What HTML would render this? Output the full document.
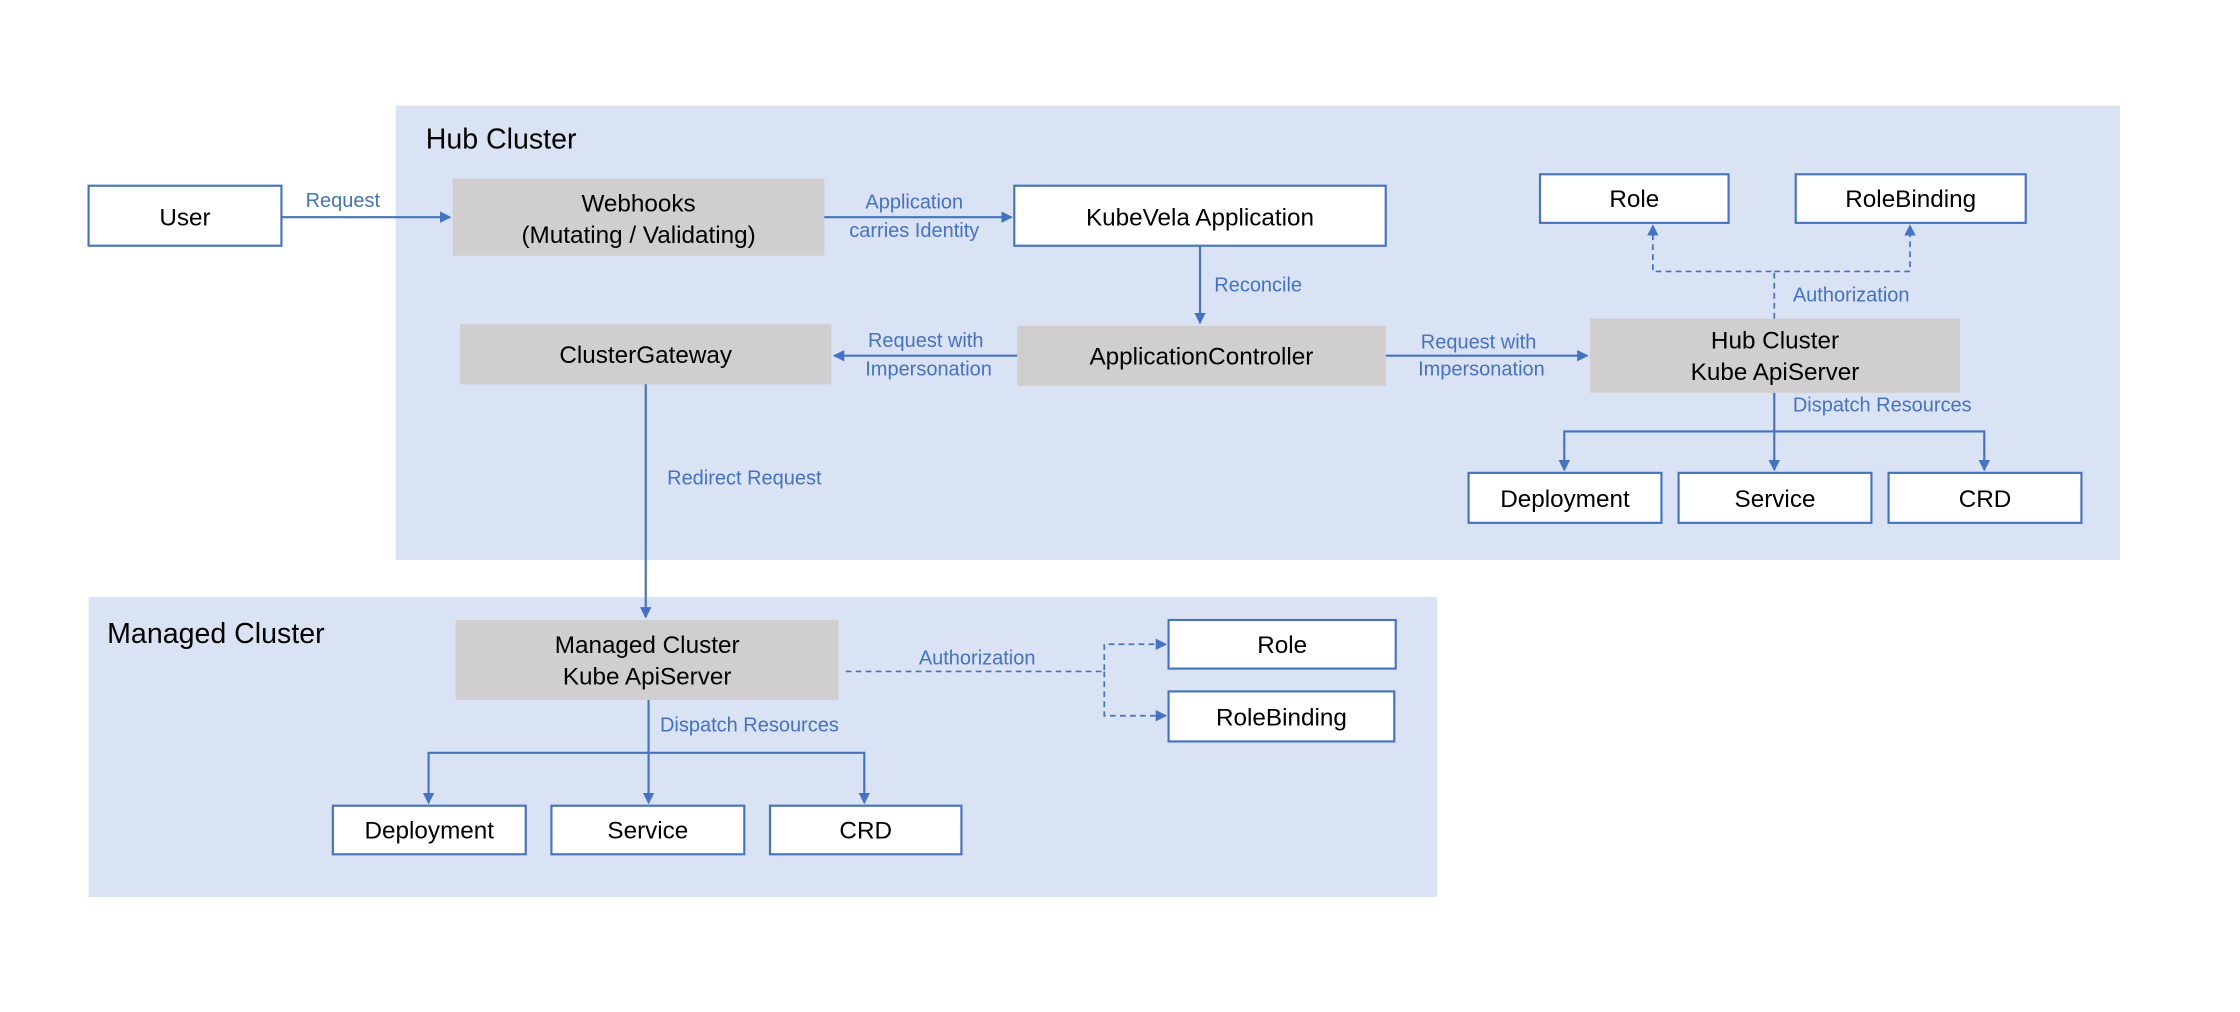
<!DOCTYPE html>
<html><head><meta charset="utf-8"><style>
html,body{margin:0;padding:0;background:#fff}
svg{display:block}
text{font-family:"Liberation Sans",sans-serif}
.b{fill:#000;font-size:17px;text-anchor:middle}
.l{fill:#4472c4;font-size:14px;text-anchor:middle}
.s{fill:#4472c4;font-size:14px;text-anchor:start}
.w{fill:#fff;stroke:#4472c4;stroke-width:1.5}
.g{fill:#d0cece}
.ln{stroke:#4472c4;stroke-width:1.5;fill:none}
.d{stroke:#4472c4;stroke-width:1.2;fill:none;stroke-dasharray:4,3}
</style></head><body>
<svg width="2240" height="1012" viewBox="0 0 1568 708.4" xmlns="http://www.w3.org/2000/svg">
<defs><marker id="a" markerWidth="8" markerHeight="8" refX="7" refY="4" orient="auto" markerUnits="userSpaceOnUse"><path d="M0,0L8,4L0,8z" fill="#4472c4"/></marker></defs>
<rect x="277" y="74" width="1207" height="318" fill="#dae3f3"/>
<rect x="62" y="418" width="944" height="210" fill="#dae3f3"/>
<text x="298" y="104" font-size="20" fill="#000">Hub Cluster</text>
<text x="75" y="450" font-size="20" fill="#000">Managed Cluster</text>

<rect class="w" x="62" y="130" width="135" height="42"/><text class="b" x="129.5" y="158">User</text>
<rect class="g" x="317" y="125" width="260" height="54"/><text class="b" x="447" y="148">Webhooks</text><text class="b" x="447" y="170">(Mutating / Validating)</text>
<rect class="w" x="710" y="130" width="260" height="42"/><text class="b" x="840" y="158">KubeVela Application</text>
<rect class="w" x="1078" y="122" width="132" height="34"/><text class="b" x="1144" y="145">Role</text>
<rect class="w" x="1257" y="122" width="161" height="34"/><text class="b" x="1337.5" y="145">RoleBinding</text>
<rect class="g" x="322" y="227" width="260" height="42"/><text class="b" x="452" y="254">ClusterGateway</text>
<rect class="g" x="712" y="228" width="258" height="42"/><text class="b" x="841" y="255">ApplicationController</text>
<rect class="g" x="1113" y="223" width="259" height="52"/><text class="b" x="1242.5" y="244">Hub Cluster</text><text class="b" x="1242.5" y="266">Kube ApiServer</text>
<rect class="w" x="1028" y="331" width="135" height="35"/><text class="b" x="1095.5" y="355">Deployment</text>
<rect class="w" x="1175" y="331" width="135" height="35"/><text class="b" x="1242.5" y="355">Service</text>
<rect class="w" x="1322" y="331" width="135" height="35"/><text class="b" x="1389.5" y="355">CRD</text>

<rect class="g" x="319" y="434" width="268" height="56"/><text class="b" x="453" y="457">Managed Cluster</text><text class="b" x="453" y="479">Kube ApiServer</text>
<rect class="w" x="818" y="434" width="159" height="34"/><text class="b" x="897.5" y="457">Role</text>
<rect class="w" x="818" y="484" width="158" height="35"/><text class="b" x="897" y="508">RoleBinding</text>
<rect class="w" x="233" y="564" width="135" height="34"/><text class="b" x="300.5" y="587">Deployment</text>
<rect class="w" x="386" y="564" width="135" height="34"/><text class="b" x="453.5" y="587">Service</text>
<rect class="w" x="539" y="564" width="134" height="34"/><text class="b" x="606" y="587">CRD</text>

<path class="ln" d="M197,152H315" marker-end="url(#a)"/><text class="l" x="240" y="145">Request</text>
<path class="ln" d="M577,152H708" marker-end="url(#a)"/><text class="l" x="640" y="146">Application</text><text class="l" x="640" y="166">carries Identity</text>
<path class="ln" d="M840,172V226" marker-end="url(#a)"/><text class="s" x="850" y="204">Reconcile</text>
<path class="ln" d="M712,249H584" marker-end="url(#a)"/><text class="l" x="648" y="243">Request with</text><text class="l" x="650" y="263">Impersonation</text>
<path class="ln" d="M970,249H1111" marker-end="url(#a)"/><text class="l" x="1035" y="244">Request with</text><text class="l" x="1037" y="263">Impersonation</text>
<path class="d" d="M1242,223V190H1157V158" marker-end="url(#a)"/><path class="d" d="M1242,190H1337V158" marker-end="url(#a)"/>
<text class="s" x="1255" y="211">Authorization</text>
<path class="ln" d="M1242,275V302H1095V329" marker-end="url(#a)"/><path class="ln" d="M1242,302V329" marker-end="url(#a)"/><path class="ln" d="M1242,302H1389V329" marker-end="url(#a)"/>
<text class="s" x="1255" y="288">Dispatch Resources</text>
<path class="ln" d="M452,269V432" marker-end="url(#a)"/><text class="s" x="467" y="339">Redirect Request</text>
<path class="d" d="M592,470H773V451H816" marker-end="url(#a)"/><path class="d" d="M773,470V501H816" marker-end="url(#a)"/>
<text class="l" x="684" y="465">Authorization</text>
<path class="ln" d="M454,490V527H300V562" marker-end="url(#a)"/><path class="ln" d="M454,527V562" marker-end="url(#a)"/><path class="ln" d="M454,527H605V562" marker-end="url(#a)"/>
<text class="s" x="462" y="512">Dispatch Resources</text>
</svg>
</body></html>
